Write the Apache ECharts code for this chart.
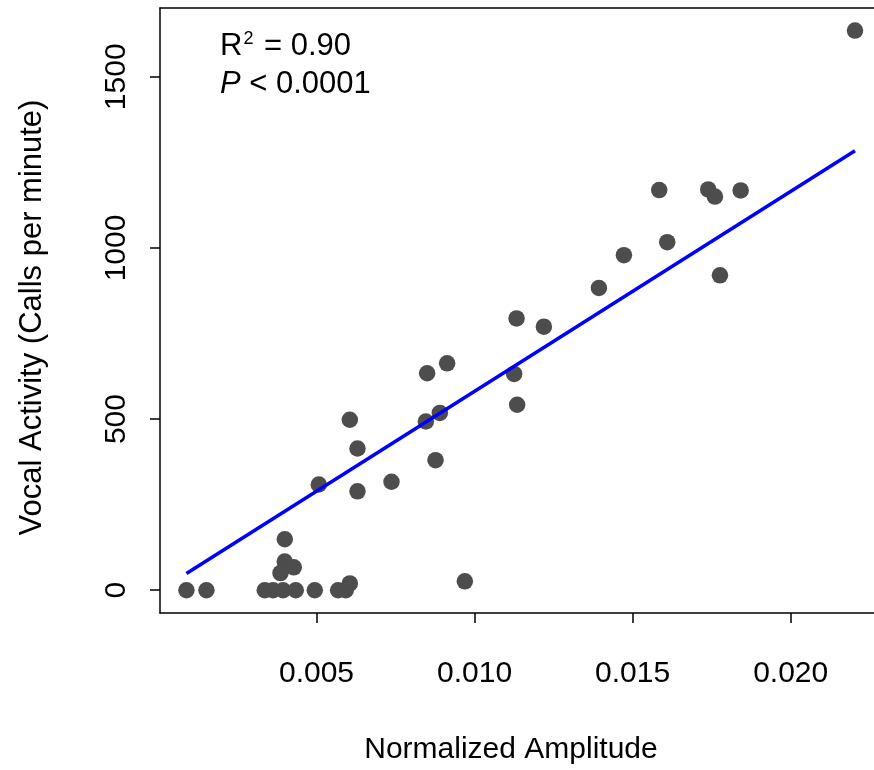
<!DOCTYPE html>
<html>
<head>
<meta charset="utf-8">
<script src="https://cdn.jsdelivr.net/npm/echarts@6/dist/echarts.min.js"></script>
<style>
html,body{margin:0;padding:0;background:#fff;}
#chart{width:874px;height:770px;}
</style>
</head>
<body>
<div id="chart"></div>
<script>
// Normalized amplitude (x) and vocal activity in calls per minute (y)
const amplitude = [
  0.000886, 0.001519, 0.003364, 0.003627, 0.003943, 0.004345, 0.004946,
  0.005684, 0.005927, 0.006054, 0.003997, 0.003997, 0.004282, 0.003861,
  0.005073, 0.006054, 0.006297, 0.006297, 0.007373, 0.009693, 0.008500,
  0.009133, 0.008459, 0.008902, 0.008766, 0.011329, 0.011253, 0.011348,
  0.012193, 0.013934, 0.014725, 0.015842, 0.016095, 0.017392, 0.017604,
  0.018418, 0.017763, 0.022035
];
const callsPerMinute = [
  0, 0, 0, 0, 0, 0, 0,
  0, 0, 20, 149, 84, 67, 50,
  309, 498, 414, 289, 317, 26, 634,
  663, 493, 518, 380, 794, 632, 542,
  770, 883, 979, 1169, 1017, 1171, 1150,
  1168, 920, 1635
];
// Fitted regression line end points
const fitX = [0.000886, 0.022035];
const fitY = [49, 1284];

const xTicks = [0.005, 0.010, 0.015, 0.020];
const yTicks = [0, 500, 1000, 1500];

const FONT = "'Liberation Sans', Arial, Helvetica, sans-serif";

const points = amplitude.map((x, i) => [x, callsPerMinute[i]]);
const fitLine = fitX.map((x, i) => [x, fitY[i]]);

const chart = echarts.init(document.getElementById('chart'));
chart.setOption({
  animation: false,
  backgroundColor: '#ffffff',
  grid: { left: 160, top: 8, right: 0, bottom: 155 },
  xAxis: [{
    type: 'value',
    min: 0.00005, max: 0.022636,
    position: 'bottom',
    splitLine: { show: false },
    axisLine: { show: true, onZero: false, lineStyle: { color: '#000', width: 1.5 } },
    axisTick: { show: true, inside: false, length: 10, customValues: xTicks, lineStyle: { color: '#000', width: 1.5 } },
    axisLabel: { customValues: xTicks, formatter: v => v.toFixed(3), fontFamily: FONT, fontSize: 30, color: '#000', margin: 46 },
    name: 'Normalized Amplitude',
    nameLocation: 'middle',
    nameGap: 122,
    nameTextStyle: { fontFamily: FONT, fontSize: 30, color: '#000', padding: [0, 12, 0, 0] }
  }, {
    type: 'value',
    min: 0.00005, max: 0.022636,
    position: 'top',
    splitLine: { show: false },
    axisLine: { show: true, onZero: false, lineStyle: { color: '#000', width: 1.5 } },
    axisTick: { show: false },
    axisLabel: { show: false }
  }],
  yAxis: {
    type: 'value',
    min: -66.5, max: 1701,
    splitLine: { show: false },
    axisLine: { show: true, onZero: false, lineStyle: { color: '#000', width: 1.5 } },
    axisTick: { show: true, inside: false, length: 10, customValues: yTicks, lineStyle: { color: '#000', width: 1.5 } },
    axisLabel: { customValues: yTicks, formatter: v => String(v), rotate: 90, fontFamily: FONT, fontSize: 30, color: '#000', margin: 28 },
    name: 'Vocal Activity (Calls per minute)',
    nameLocation: 'middle',
    nameGap: 112,
    nameRotate: 90,
    nameTextStyle: { fontFamily: FONT, fontSize: 31, color: '#000', padding: [0, 14, 0, 0] }
  },
  graphic: [{
    type: 'text',
    left: 220, top: 30,
    style: {
      text: '{a|R}{s|2}{a| = 0.90}',
      rich: {
        a: { fontFamily: FONT, fontSize: 31, fill: '#000' },
        s: { fontFamily: FONT, fontSize: 18, fill: '#000', padding: [0, 2, 14, 1] }
      }
    }
  }, {
    type: 'text',
    left: 220, top: 69,
    style: {
      text: '{i|P}{a| < 0.0001}',
      rich: {
        i: { fontFamily: FONT, fontSize: 31, fontStyle: 'italic', fill: '#000' },
        a: { fontFamily: FONT, fontSize: 31, fill: '#000' }
      }
    }
  }],
  series: [{
    type: 'scatter',
    data: points,
    symbol: 'circle',
    symbolSize: 16.5,
    itemStyle: { color: '#4d4d4d', opacity: 1 },
    z: 2
  }, {
    type: 'line',
    data: fitLine,
    showSymbol: false,
    symbol: 'none',
    lineStyle: { color: '#0000ff', width: 3.5 },
    z: 3
  }]
});
</script>
</body>
</html>
